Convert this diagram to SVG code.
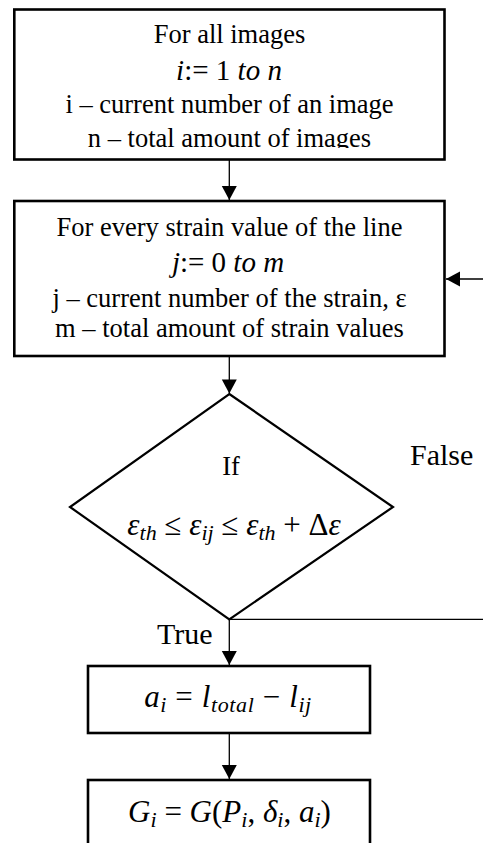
<svg xmlns="http://www.w3.org/2000/svg" width="483" height="843" viewBox="0 0 483 843">
<style>
.box{fill:#fff;stroke:#000;stroke-width:2.6}
.dia{fill:#fff;stroke:#000;stroke-width:2.2}
.con{fill:none;stroke:#000;stroke-width:1.3}
text{font-family:"Liberation Serif","Times New Roman",serif;fill:#000}
.t{font-size:26.5px;text-anchor:middle}
.lbl{font-size:30px}
.m{font-size:29px;text-anchor:middle}
.m2{font-size:31px;text-anchor:middle}
.i{font-style:italic}
.s{font-style:italic;font-size:22px}
</style>
<defs>
<marker id="ah" markerUnits="userSpaceOnUse" markerWidth="16" markerHeight="16" viewBox="0 0 16 16" refX="15" refY="8" orient="auto">
<path d="M1,0.5 L15,8 L1,15.5 Z" fill="#000"/>
</marker>
<clipPath id="c1"><rect x="0" y="0" width="483" height="148"/></clipPath>
</defs>
<g id="connectors">
<line class="con" x1="229.3" y1="159.5" x2="229.3" y2="200" marker-end="url(#ah)"/>
<line class="con" x1="229.3" y1="356" x2="229.3" y2="393.5" marker-end="url(#ah)"/>
<line class="con" x1="229.3" y1="619.3" x2="229.3" y2="665" marker-end="url(#ah)"/>
<line class="con" x1="229.3" y1="733" x2="229.3" y2="779" marker-end="url(#ah)"/>
<path class="con" d="M229.3,619.3 H500 V279 H446" marker-end="url(#ah)"/>
</g>
<g id="loop-images">
<rect class="box" x="14.3" y="9.5" width="430.2" height="150"/>
<text class="t" x="229.5" y="43.3">For all images</text>
<text class="m" x="229" y="80"><tspan class="i">i</tspan>:= 1 <tspan class="i">to n</tspan></text>
<text class="t" x="229.5" y="113.3">i – current number of an image</text>
<text class="t" x="229.5" y="147" clip-path="url(#c1)">n – total amount of images</text>
</g>
<g id="loop-strain">
<rect class="box" x="14.3" y="201" width="430.2" height="155"/>
<text class="t" x="229.5" y="235.7">For every strain value of the line</text>
<text class="m" x="228" y="271.7"><tspan class="i">j</tspan>:= 0 <tspan class="i">to m</tspan></text>
<text class="t" x="229.5" y="306.7">j – current number of the strain, ε</text>
<text class="t" x="229.5" y="337.3">m – total amount of strain values</text>
</g>
<g id="decision">
<polygon class="dia" points="229.3,394 393,507 229.3,619.3 70,507"/>
<text class="t" x="231" y="475">If</text>
<text class="m2" x="234" y="535"><tspan class="i">ε</tspan><tspan class="s" dy="5">th</tspan><tspan dy="-5"> ≤ </tspan><tspan class="i">ε</tspan><tspan class="s" dy="5">ij</tspan><tspan dy="-5"> ≤ </tspan><tspan class="i">ε</tspan><tspan class="s" dy="5">th</tspan><tspan dy="-5"> + Δ</tspan><tspan class="i">ε</tspan></text>
</g>
<g id="labels">
<text class="lbl" x="410" y="465">False</text>
<text class="lbl" x="157" y="644">True</text>
</g>
<g id="crack-length">
<rect class="box" x="88" y="666" width="282" height="67"/>
<text class="m2" x="228" y="707" letter-spacing="0.6"><tspan class="i">a</tspan><tspan class="s" dy="5">i</tspan><tspan dy="-5"> = </tspan><tspan class="i">l</tspan><tspan class="s" dy="5">total</tspan><tspan dy="-5"> − </tspan><tspan class="i">l</tspan><tspan class="s" dy="5">ij</tspan></text>
</g>
<g id="energy">
<rect class="box" x="88" y="780" width="282" height="80"/>
<text class="m2" x="229.5" y="822" font-size="29.5"><tspan class="i">G</tspan><tspan class="s" dy="5">i</tspan><tspan dy="-5"> = </tspan><tspan class="i">G</tspan>(<tspan class="i">P</tspan><tspan class="s" dy="5">i</tspan><tspan dy="-5">, </tspan><tspan class="i">δ</tspan><tspan class="s" dy="5">i</tspan><tspan dy="-5">, </tspan><tspan class="i">a</tspan><tspan class="s" dy="5">i</tspan><tspan dy="-5">)</tspan></text>
</g>
</svg>
